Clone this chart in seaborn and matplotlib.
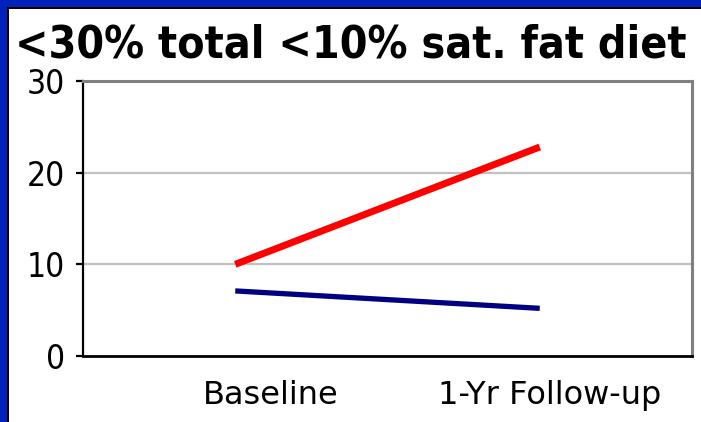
import matplotlib
matplotlib.use("Agg")
import matplotlib.pyplot as plt
import matplotlib.transforms as mtransforms
from matplotlib.patches import Rectangle
from matplotlib import font_manager as fm
import seaborn as sns
import pandas as pd

categories = ["Baseline", "1-Yr Follow-up"]
red_values = [10.0, 22.8]
navy_values = [7.1, 5.2]
y_ticks = [0, 10, 20, 30]
title = "<30% total <10% sat. fat diet"

df = pd.DataFrame({
    "x": [0, 1, 0, 1],
    "value": red_values + navy_values,
    "series": ["red", "red", "navy", "navy"],
})

sns.set_theme(style="white")
plt.rcParams["font.family"] = ["DejaVu Sans"]

W, H = 701, 422
fig = plt.figure(figsize=(W / 100, H / 100), dpi=100)
fig.patch.set_facecolor("white")

ax = fig.add_axes([83 / W, 1 - 356 / H, (692 - 83) / W, (356 - 81) / H])

sns.lineplot(data=df[df.series == "red"], x="x", y="value", color="#FF0000",
             lw=5.0, ax=ax, legend=False, solid_capstyle="butt")
sns.lineplot(data=df[df.series == "navy"], x="x", y="value", color="#000080",
             lw=3.8, ax=ax, legend=False, solid_capstyle="butt")

ax.set_xlim(-0.5, 1.5)
ax.set_ylim(0, 30)
ax.set_xlabel("")
ax.set_ylabel("")

for y in [10, 20]:
    ax.axhline(y, color="#c0c0c0", lw=1.6, zorder=0)

ax.spines["left"].set_color("black")
ax.spines["left"].set_linewidth(1.6)
ax.spines["bottom"].set_color("black")
ax.spines["bottom"].set_linewidth(2.0)
ax.spines["top"].set_color("#808080")
ax.spines["top"].set_linewidth(2.2)
ax.spines["right"].set_color("#808080")
ax.spines["right"].set_linewidth(2.2)

ax.tick_params(axis="y", left=True, length=5, width=1.6, color="black", pad=8)
ax.tick_params(axis="x", bottom=False, length=0, pad=17)

# choose a narrow font for y tick labels if present
names = {f.name for f in fm.fontManager.ttflist}
narrow = "Liberation Sans Narrow" if "Liberation Sans Narrow" in names else "DejaVu Sans"
yfp = fm.FontProperties(family=narrow, size=24, stretch="condensed")
xfp = fm.FontProperties(family="DejaVu Sans", size=23)

ax.set_yticks(y_ticks)
ax.set_yticklabels([str(v) for v in y_ticks], fontproperties=yfp, color="black")
ax.set_xticks([0, 1])
ax.set_xticklabels(categories, fontproperties=xfp, color="black")

# shift x labels to match reference placement
shifts = [35, 10]
for lab, dx in zip(ax.get_xticklabels(), shifts):
    lab.set_transform(lab.get_transform() + mtransforms.ScaledTranslation(dx / 100, 0, fig.dpi_scale_trans))

fig.text(0.5, 1 - 57 / H, title, ha="center", va="baseline",
         fontsize=32, fontweight="bold", fontstretch="condensed", color="black")

# frame: blue on top and left, thin black inner line
blue = "#0022BB"
fig.patches.append(Rectangle((0, 1 - 7 / H), 1, 7 / H, transform=fig.transFigure,
                             facecolor=blue, edgecolor="none", zorder=10))
fig.patches.append(Rectangle((0, 0), 7 / W, 1, transform=fig.transFigure,
                             facecolor=blue, edgecolor="none", zorder=10))
fig.patches.append(Rectangle((7 / W, 1 - 9 / H), 1, 2 / H, transform=fig.transFigure,
                             facecolor="black", edgecolor="none", zorder=10))
fig.patches.append(Rectangle((7 / W, 0), 2 / W, 1 - 7 / H, transform=fig.transFigure,
                             facecolor="black", edgecolor="none", zorder=10))

fig.savefig("out.png", dpi=100)
